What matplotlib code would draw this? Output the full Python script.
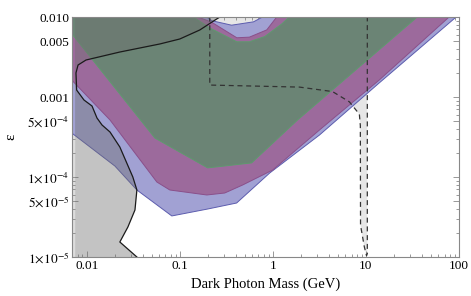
import matplotlib
matplotlib.use("Agg")
import matplotlib.pyplot as plt
from matplotlib.ticker import FixedLocator, FixedFormatter, NullFormatter

plt.rcParams['font.family'] = ['Liberation Serif', 'DejaVu Serif']
plt.rcParams['mathtext.fontset'] = 'stix'

TOP = 0.03  # above the frame, used to close regions

# outer (blue) band: lower edge and top notch
blue_m = [0.0069, 0.0201, 0.0346, 0.0821, 0.1995, 0.408, 0.923, 3.17, 13.9, 93.2, 110]
blue_e = [3.55e-4, 1.37e-4, 6.88e-5, 3.26e-5, 3.98e-5, 4.73e-5, 1.12e-4, 3.35e-4, 1.50e-3, 1.0e-2, 1.2e-2]
blue_notch_m = [0.19, 0.22, 0.36, 0.62, 0.80]
blue_notch_e = [1.02e-2, 9.0e-3, 7.9e-3, 8.7e-3, 1.02e-2]

# middle (magenta) band
mag_m = [0.0069, 0.0178, 0.0567, 0.0782, 0.195, 0.304, 0.473, 0.993, 3.17, 13.9, 78.3, 95]
mag_e = [1.63e-3, 5.16e-4, 8.66e-5, 6.88e-5, 5.96e-5, 6.31e-5, 7.94e-5, 1.22e-4, 3.87e-4, 1.63e-3, 1.0e-2, 1.2e-2]
mag_notch_m = [0.15, 0.22, 0.41, 0.56, 0.86, 1.10]
mag_notch_e = [1.02e-2, 8.6e-3, 5.5e-3, 5.6e-3, 6.9e-3, 1.0e-2]

# inner (green) region
grn_m = [0.0069, 0.054, 0.1995, 0.591, 1.842, 35.6, 45]
grn_e = [6.2e-3, 3.07e-4, 1.30e-4, 1.50e-4, 5.16e-4, 1.0e-2, 1.25e-2]
grn_notch_m = [0.14, 0.21, 0.41, 0.56, 0.82, 1.25, 1.5]
grn_notch_e = [1.0e-2, 7.3e-3, 4.9e-3, 4.9e-3, 5.7e-3, 8.2e-3, 1.0e-2]

# grey region bounded by the solid black curve
curve_m = [0.282, 0.249, 0.164, 0.10, 0.061, 0.0227, 0.00983, 0.00807, 0.00767, 0.0078,
           0.00935, 0.0114, 0.0129, 0.0146, 0.0178, 0.0227, 0.0313, 0.0346, 0.033,
           0.0277, 0.0227, 0.0346]
curve_e = [1.03e-2, 9.44e-3, 6.88e-3, 5.31e-3, 4.6e-3, 3.65e-3, 2.9e-3, 2.51e-3, 2.0e-3, 1.22e-3,
           9.17e-4, 7.72e-4, 5.46e-4, 4.47e-4, 3.65e-4, 2.37e-4, 1.0e-4, 6.88e-5, 3.87e-5,
           2.37e-5, 1.54e-5, 1.0e-5]

# light region with dashed boundary
dash_m = [0.21, 0.21, 1.93, 4.37, 6.64, 8.5, 8.71, 8.75, 9.6, 10.15, 10.35, 10.35]
dash_e = [TOP, 1.41e-3, 1.33e-3, 1.17e-3, 8.7e-4, 6.1e-4, 4.4e-4, 2.5e-5, 1.35e-5, 1.04e-5, 1.1e-5, TOP]

xticks = [0.01, 0.1, 1, 10, 100]
xlabels = ['0.01', '0.1', '1', '10', '100']
yticks = [1e-5, 5e-5, 1e-4, 5e-4, 1e-3, 5e-3, 1e-2]
ylabels = [r'$1\!\times\!10^{-5}$', r'$5\!\times\!10^{-5}$', r'$1\!\times\!10^{-4}$',
           r'$5\!\times\!10^{-4}$', '0.001', '0.005', '0.010']


def region(lo_m, lo_e, n_m, n_e):
    xs = list(lo_m) + [lo_m[-1], n_m[-1]] + n_m[::-1] + [n_m[0], lo_m[0]]
    ys = list(lo_e) + [TOP, TOP] + n_e[::-1] + [TOP, TOP]
    return xs, ys


fig = plt.figure(figsize=(4.71, 2.96), dpi=100)
ax = fig.add_axes([72 / 471, 39 / 296, 387 / 471, 240 / 296])
ax.set_xscale('log')
ax.set_yscale('log')

# dashed region (under everything)
ax.fill(dash_m, dash_e, color='#e6e6e6', lw=0, zorder=1)
# thin light strip at left edge
ax.fill([0.0066, 0.0075, 0.0075, 0.0066], [1e-6, 1e-6, TOP, TOP], color='#dcdcdc', lw=0, zorder=1)

for (m, e, nm, ne, fc, ec) in [
        (blue_m, blue_e, blue_notch_m, blue_notch_e, '#a1a1d3', '#5c5cae'),
        (mag_m, mag_e, mag_notch_m, mag_notch_e, '#9c6a9c', '#8a4f8a'),
        (grn_m, grn_e, grn_notch_m, grn_notch_e, '#6b8475', '#5e9a6e')]:
    xs, ys = region(m, e, nm, ne)
    ax.fill(xs, ys, facecolor=fc, edgecolor=ec, lw=0.7, zorder=2)

# grey translucent region
gx = curve_m + [0.0346, 0.0075, 0.0075, 0.282]
gy = curve_e + [5e-6, 5e-6, TOP, TOP]
ax.fill(gx, gy, facecolor='#6f6f6f', alpha=0.41, lw=0, zorder=3)
ax.plot(curve_m, curve_e, color='#1a1a1a', lw=0.9, zorder=4)

# dashed outline
ax.plot(dash_m, dash_e, color='#333333', lw=0.9, ls=(0, (4, 3)), zorder=4)

ax.set_xlim(0.00695, 100)
ax.set_ylim(1e-5, 0.01)

ax.xaxis.set_major_locator(FixedLocator(xticks))
ax.xaxis.set_major_formatter(FixedFormatter(xlabels))
ax.yaxis.set_major_locator(FixedLocator(yticks))
ax.yaxis.set_major_formatter(FixedFormatter(ylabels))
ax.xaxis.set_minor_formatter(NullFormatter())
ax.yaxis.set_minor_formatter(NullFormatter())

ax.tick_params(which='both', direction='in', top=True, right=True, color='#888888',
               width=0.6, labelsize=9.5, pad=2)
ax.tick_params(which='major', length=4)
ax.tick_params(which='minor', length=2)
for s in ax.spines.values():
    s.set_color('#888888')
    s.set_linewidth(0.8)
    s.set_zorder(6)

ax.set_xlabel('Dark Photon Mass (GeV)', fontsize=10.5, labelpad=4)
ax.set_ylabel('ε', fontsize=11)
ax.yaxis.set_label_coords(-0.14, 0.5)

fig.savefig('out.png', dpi=100)
